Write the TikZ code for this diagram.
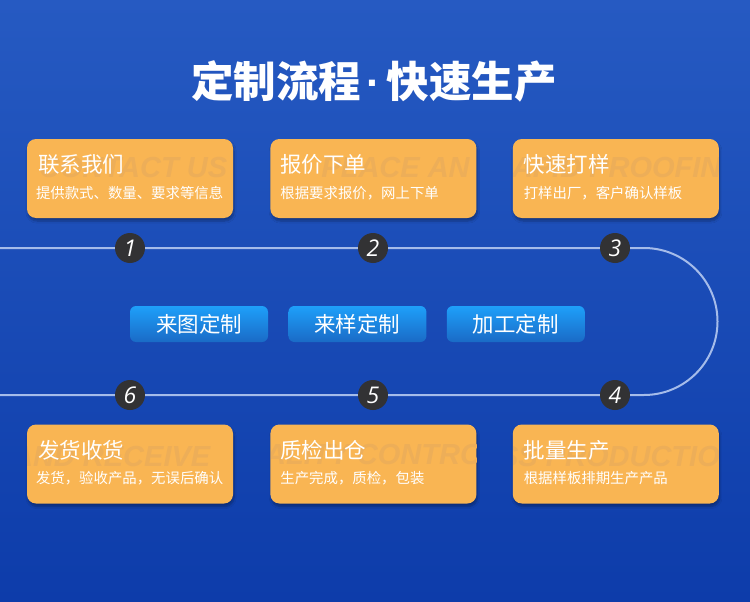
\documentclass[tikz,border=0pt]{standalone}
\usepackage{fontspec}
\setmainfont{Noto Sans CJK SC}
\newfontfamily\numfont{Open Sans}
\newfontfamily\wmfont{Liberation Sans}
\usetikzlibrary{positioning,shadows.blur}
\definecolor{bgtop}{RGB}{38,90,194}
\definecolor{bgbot}{RGB}{13,60,170}
\definecolor{cardorange}{RGB}{249,181,83}
\definecolor{cardmark}{RGB}{237,174,88}
\definecolor{pilltop}{RGB}{30,160,250}
\definecolor{pillbot}{RGB}{26,106,198}
\definecolor{flowblue}{RGB}{165,188,234}
\definecolor{dotgray}{RGB}{50,50,52}
\tikzset{
  card/.style 2 args = {
    fill=cardorange, rounded corners=9pt, inner sep=0pt,
    minimum width=206pt, minimum height=79pt,
    blur shadow={shadow xshift=1pt, shadow yshift=-3pt,
      shadow opacity=30, shadow blur steps=6},
    path picture={\node[wmark,#1] at (path picture bounding box.west) {#2};}
  },
  wmark/.style = {anchor=west, inner sep=0pt, text=cardmark,
    font=\wmfont\bfseries\itshape\fontsize{29}{29}\selectfont},
  cardhead/.style = {anchor=west, inner sep=0pt, text=white,
    font=\fontsize{21.5}{22}\selectfont},
  cardsub/.style = {anchor=west, inner sep=0pt, text=white,
    font=\fontsize{14.4}{15}\selectfont},
  pill/.style = {rounded corners=6pt, inner sep=0pt,
    minimum width=138pt, minimum height=36pt,
    top color=pilltop, bottom color=pillbot, text=white,
    font=\fontsize{21.5}{22}\selectfont},
  numdot/.style = {circle, fill=dotgray, inner sep=0pt, minimum size=30pt,
    text=white, font=\numfont\itshape\fontsize{23}{23}\selectfont},
  flowline/.style = {draw=flowblue, line width=2pt}
}

\begin{document}
\begin{tikzpicture}[x=1pt,y=-1pt]
  \useasboundingbox (0,0) rectangle (750,602);
  \fill[top color=bgtop, bottom color=bgbot] (0,0) rectangle (750,602);

  \node[text=white, font=\bfseries\fontsize{42.5}{43}\selectfont] (title) at (374,81)
    {定制流程\hspace{5.5pt}{\wmfont\bfseries ·}\hspace{5.5pt}快速生产};

  % top row
  \node[card={xshift=3pt,yshift=10.5pt}{CONTACT US}] (s1) at (130,178.5) {};
  \node[card={xshift=22pt,yshift=10.5pt}{PLACE AN}, right=37pt of s1] (s2) {};
  \node[card={xshift=-22pt,yshift=10.5pt}{RAPID PROOFING}, right=36pt of s2] (s3) {};
  % bottom row
  \node[card={xshift=-19pt,yshift=7pt}{AND RECEIVE}] (s6) at (130,464) {};
  \node[card={xshift=-49pt,yshift=7pt}{QUALITY CONTROL}, right=37pt of s6] (s5) {};
  \node[card={xshift=-59pt,yshift=7pt}{MASS PRODUCTION}, right=36pt of s5] (s4) {};

  \node[cardhead] (h1) at ([xshift=11pt,yshift=14pt]s1.west) {联系我们};
  \node[cardsub]  (t1) at ([xshift=9pt,yshift=-14.5pt]s1.west) {提供款式、数量、要求等信息};
  \node[cardhead] (h2) at ([xshift=10pt,yshift=14pt]s2.west) {报价下单};
  \node[cardsub]  (t2) at ([xshift=10pt,yshift=-14.5pt]s2.west) {根据要求报价，网上下单};
  \node[cardhead] (h3) at ([xshift=11pt,yshift=14pt]s3.west) {快速打样};
  \node[cardsub]  (t3) at ([xshift=11pt,yshift=-14.5pt]s3.west) {打样出厂，客户确认样板};
  \node[cardhead] (h6) at ([xshift=11pt,yshift=14pt]s6.west) {发货收货};
  \node[cardsub]  (t6) at ([xshift=9pt,yshift=-14.5pt]s6.west) {发货，验收产品，无误后确认};
  \node[cardhead] (h5) at ([xshift=10pt,yshift=14pt]s5.west) {质检出仓};
  \node[cardsub]  (t5) at ([xshift=10pt,yshift=-14.5pt]s5.west) {生产完成，质检，包装};
  \node[cardhead] (h4) at ([xshift=11pt,yshift=14pt]s4.west) {批量生产};
  \node[cardsub]  (t4) at ([xshift=11pt,yshift=-14.5pt]s4.west) {根据样板排期生产产品};

  % middle
  \node[pill] (p1) at (199,324) {来图定制};
  \node[pill, right=20pt of p1] (p2) {来样定制};
  \node[pill, right=20pt of p2] (p3) {加工定制};

  % steps
  \node[numdot] (n1) at (130,248) {1};
  \node[numdot] (n2) at (373,248) {2};
  \node[numdot] (n3) at (615,248) {3};
  \node[numdot] (n4) at (615,395) {4};
  \node[numdot] (n5) at (373,395) {5};
  \node[numdot] (n6) at (130,395) {6};

  \coordinate (lt) at (0,248);
  \coordinate (rt) at (644,248);
  \coordinate (lb) at (0,395);
  \draw[flowline] (lt) -- (n1) -- (n2) -- (n3) -- (rt)
    arc[start angle=-90, end angle=90, radius=73.5] -- (n4) -- (n5) -- (n6) -- (lb);
\end{tikzpicture}
\end{document}
